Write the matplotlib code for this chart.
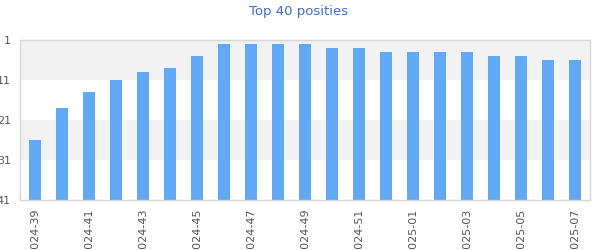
import numpy as np
import matplotlib
matplotlib.use('Agg')
import matplotlib.pyplot as plt

weeks = ['2024-39', '2024-40', '2024-41', '2024-42', '2024-43', '2024-44', '2024-45',
         '2024-46', '2024-47', '2024-48', '2024-49', '2024-50', '2024-51', '2024-52',
         '2025-01', '2025-02', '2025-03', '2025-04', '2025-05', '2025-06', '2025-07']
positions = [26, 18, 14, 11, 9, 8, 5, 2, 2, 2, 2, 3, 3, 4, 4, 4, 4, 5, 5, 6, 6]
y_ticks = [1, 11, 21, 31, 41]

fig = plt.figure(figsize=(6, 2.5), dpi=100)
ax = fig.add_axes([20 / 600, 50 / 250, 570 / 600, 160 / 250])

# alternating bands
for i in range(len(y_ticks) - 1):
    if i % 2 == 0:
        ax.axhspan(y_ticks[i], y_ticks[i + 1], color='#f2f2f2', lw=0, zorder=0)

x = np.arange(len(weeks))
bottom = 41
ax.bar(x, [bottom - p for p in positions], bottom=positions, width=0.45,
       color='#61a9f3', zorder=2)

ax.set_ylim(41, 1)
ax.set_xlim(-0.55, len(weeks) - 0.45)
ax.set_yticks(y_ticks)
ax.set_yticklabels([str(t) for t in y_ticks])
ax.set_xticks(x[::2])
ax.set_xticklabels(weeks[::2], rotation=90, va='top', ha='center')
ax.tick_params(axis='both', length=0, labelsize=8, colors='#555555')
ax.tick_params(axis='x', pad=6)
ax.tick_params(axis='y', pad=6.5)
for s in ax.spines.values():
    s.set_color('#d6d6d6')
    s.set_linewidth(1)

fig.text(299 / 600, 1 - 11 / 250, 'Top 40 posities', ha='center', va='center',
         fontsize=9.5, color='#3f6fc2')

fig.savefig('out.png', dpi=100)
